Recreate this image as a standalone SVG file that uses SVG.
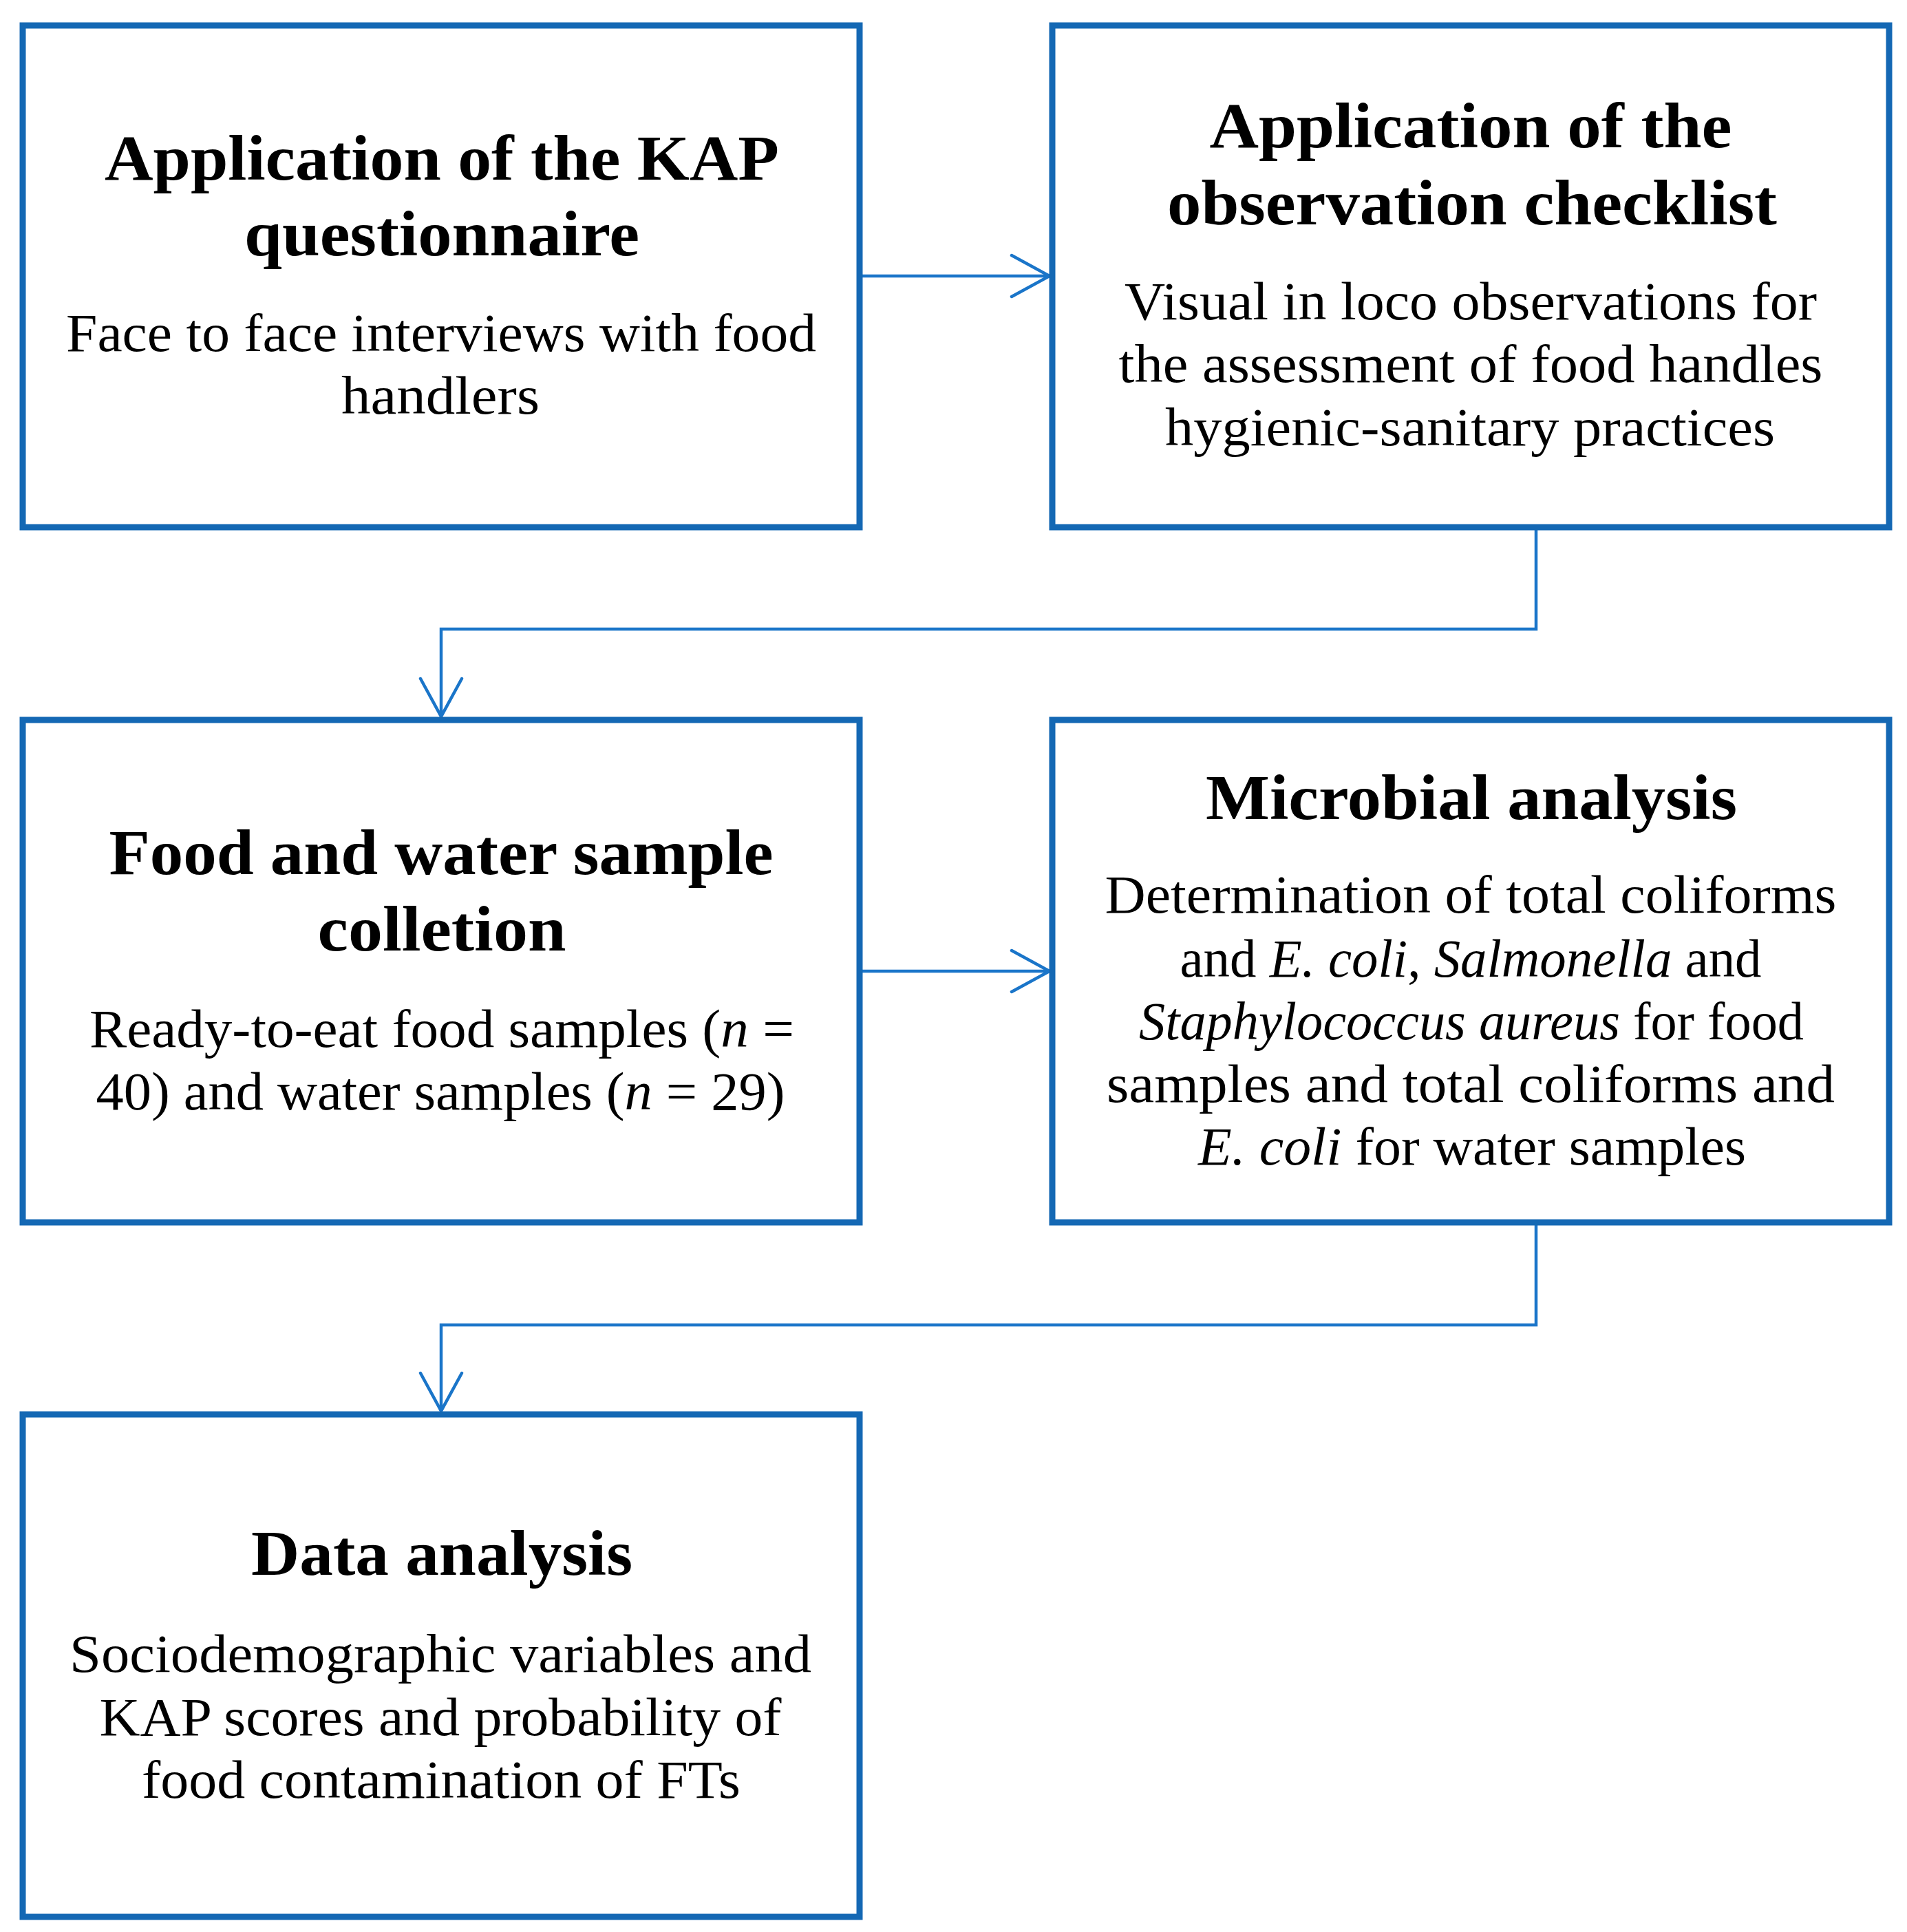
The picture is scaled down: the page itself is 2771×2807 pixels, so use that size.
<svg xmlns="http://www.w3.org/2000/svg" width="2771" height="2807" viewBox="0 0 2771 2807">
  <style>
    .box { fill: #ffffff; stroke: #1468B4; stroke-width: 9; }
    .conn { fill: none; stroke: #1A75C9; stroke-width: 4.5; stroke-linejoin: miter; }
    .title { font-family: "Liberation Serif", "Times New Roman", serif; font-weight: bold; font-size: 94px; fill: #000000; text-anchor: middle; }
    .body { font-family: "Liberation Serif", "Times New Roman", serif; font-size: 78px; fill: #000000; text-anchor: middle; }
    .it { font-style: italic; }
  </style>
  <defs>
    <marker id="arrow" markerUnits="userSpaceOnUse" markerWidth="80" markerHeight="80" refX="0" refY="0" viewBox="-70 -40 80 80" orient="auto" overflow="visible">
      <path d="M -55 -30 L 0 0 L -55 30" fill="none" stroke="#1A75C9" stroke-width="4.5" stroke-linecap="round" stroke-linejoin="miter"/>
    </marker>
  </defs>
  <rect width="2771" height="2807" fill="#ffffff"/>

  <g id="connectors">
    <path class="conn" d="M 1249 401 H 1525" marker-end="url(#arrow)"/>
    <path class="conn" d="M 2232 766 V 914 H 641 V 1041" marker-end="url(#arrow)"/>
    <path class="conn" d="M 1249 1411 H 1525" marker-end="url(#arrow)"/>
    <path class="conn" d="M 2232 1776 V 1925 H 641 V 2050" marker-end="url(#arrow)"/>
  </g>

  <g id="node-kap">
    <rect class="box" x="33" y="37" width="1216" height="729"/>
    <text class="title" x="642" y="261" textLength="980" lengthAdjust="spacingAndGlyphs">Application of the KAP</text>
    <text class="title" x="642" y="371" textLength="574" lengthAdjust="spacingAndGlyphs">questionnaire</text>
    <text class="body" x="641" y="510" textLength="1090" lengthAdjust="spacingAndGlyphs">Face to face interviews with food</text>
    <text class="body" x="640" y="601" textLength="288" lengthAdjust="spacingAndGlyphs">handlers</text>
  </g>

  <g id="node-checklist">
    <rect class="box" x="1529" y="37" width="1216" height="729"/>
    <text class="title" x="2137" y="214" textLength="759" lengthAdjust="spacingAndGlyphs">Application of the</text>
    <text class="title" x="2139" y="326" textLength="886" lengthAdjust="spacingAndGlyphs">observation checklist</text>
    <text class="body" x="2137" y="464" textLength="1006" lengthAdjust="spacingAndGlyphs">Visual in loco observations for</text>
    <text class="body" x="2137" y="555" textLength="1023" lengthAdjust="spacingAndGlyphs">the assessment of food handles</text>
    <text class="body" x="2136" y="647" textLength="886" lengthAdjust="spacingAndGlyphs">hygienic-sanitary practices</text>
  </g>

  <g id="node-sampling">
    <rect class="box" x="33" y="1046" width="1216" height="730"/>
    <text class="title" x="641" y="1270" textLength="965" lengthAdjust="spacingAndGlyphs">Food and water sample</text>
    <text class="title" x="642" y="1381" textLength="361" lengthAdjust="spacingAndGlyphs">colletion</text>
    <text class="body" x="642" y="1521" textLength="1024" lengthAdjust="spacingAndGlyphs">Ready-to-eat food samples (<tspan class="it">n</tspan> =</text>
    <text class="body" x="640" y="1612" textLength="1001" lengthAdjust="spacingAndGlyphs">40) and water samples (<tspan class="it">n</tspan> = 29)</text>
  </g>

  <g id="node-microbial">
    <rect class="box" x="1529" y="1046" width="1216" height="730"/>
    <text class="title" x="2138" y="1190" textLength="772" lengthAdjust="spacingAndGlyphs">Microbial analysis</text>
    <text class="body" x="2137" y="1326" textLength="1063" lengthAdjust="spacingAndGlyphs">Determination of total coliforms</text>
    <text class="body" x="2137" y="1419" textLength="845" lengthAdjust="spacingAndGlyphs">and <tspan class="it">E. coli</tspan>, <tspan class="it">Salmonella</tspan> and</text>
    <text class="body" x="2138" y="1510" textLength="966" lengthAdjust="spacingAndGlyphs"><tspan class="it">Staphylococcus aureus</tspan> for food</text>
    <text class="body" x="2137" y="1601" textLength="1058" lengthAdjust="spacingAndGlyphs">samples and total coliforms and</text>
    <text class="body" x="2139" y="1692" textLength="796" lengthAdjust="spacingAndGlyphs"><tspan class="it">E. coli</tspan> for water samples</text>
  </g>

  <g id="node-data">
    <rect class="box" x="33" y="2055" width="1216" height="730"/>
    <text class="title" x="642" y="2288" textLength="554" lengthAdjust="spacingAndGlyphs">Data analysis</text>
    <text class="body" x="640" y="2429" textLength="1078" lengthAdjust="spacingAndGlyphs">Sociodemographic variables and</text>
    <text class="body" x="640" y="2521" textLength="991" lengthAdjust="spacingAndGlyphs">KAP scores and probability of</text>
    <text class="body" x="641" y="2612" textLength="870" lengthAdjust="spacingAndGlyphs">food contamination of FTs</text>
  </g>
</svg>
